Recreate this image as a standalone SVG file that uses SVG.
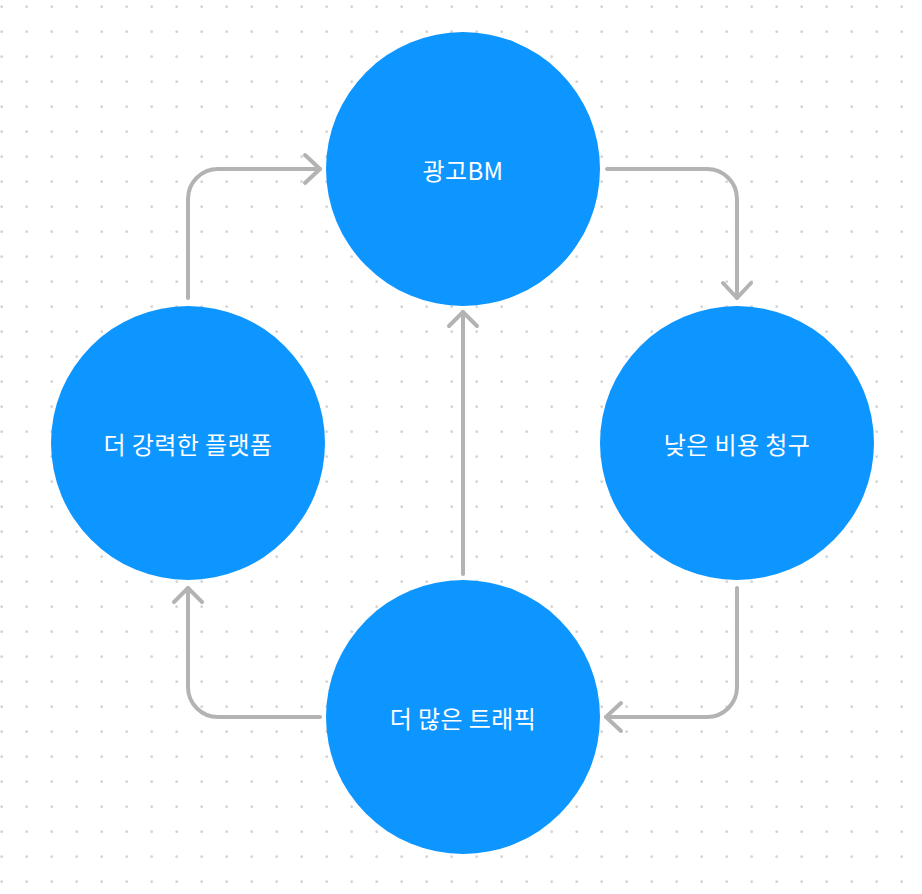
<svg xmlns="http://www.w3.org/2000/svg" width="922" height="894" viewBox="0 0 922 894">
<defs>
<pattern id="dots" x="0" y="0" width="25" height="25" patternUnits="userSpaceOnUse">
<circle cx="1.7" cy="6.7" r="1.4" fill="#d4d4d4"/>
</pattern>
<style>
.node{fill:#0d96ff}
.lbl{font-family:"Noto Sans CJK KR","Noto Sans",sans-serif;font-size:24px;letter-spacing:0.4px;fill:#ffffff;text-anchor:middle;dominant-baseline:central}
.conn{fill:none;stroke:#b3b3b3;stroke-width:4;stroke-linecap:round;stroke-linejoin:round}
</style>
</defs>
<rect width="922" height="894" fill="#ffffff"/>
<rect width="922" height="894" fill="url(#dots)"/>
<g id="connectors">
<path class="conn" d="M188 298 V199 A30 30 0 0 1 218 169 H320"/>
<path class="conn" d="M305 155 L320 169 L305 183"/>
<path class="conn" d="M607 169 H707 A30 30 0 0 1 737 199 V298"/>
<path class="conn" d="M723 283 L737 298 L751 283"/>
<path class="conn" d="M737 588 V687 A30 30 0 0 1 707 717 H606"/>
<path class="conn" d="M621 703 L606 717 L621 731"/>
<path class="conn" d="M320 717 H218 A30 30 0 0 1 188 687 V588"/>
<path class="conn" d="M174 602 L188 588 L202 602"/>
<path class="conn" d="M463 574 V312"/>
<path class="conn" d="M449 326 L463 312 L477 326"/>
</g>
<g id="node-ad">
<circle class="node" cx="463" cy="169" r="137"/>
<text class="lbl" x="463" y="169">광고BM</text>
</g>
<g id="node-cost">
<circle class="node" cx="737" cy="443" r="137"/>
<text class="lbl" x="737" y="443">낮은 비용 청구</text>
</g>
<g id="node-traffic">
<circle class="node" cx="463" cy="717" r="137"/>
<text class="lbl" x="463" y="717">더 많은 트래픽</text>
</g>
<g id="node-platform">
<circle class="node" cx="188" cy="443" r="137"/>
<text class="lbl" x="188" y="443">더 강력한 플랫폼</text>
</g>
</svg>
